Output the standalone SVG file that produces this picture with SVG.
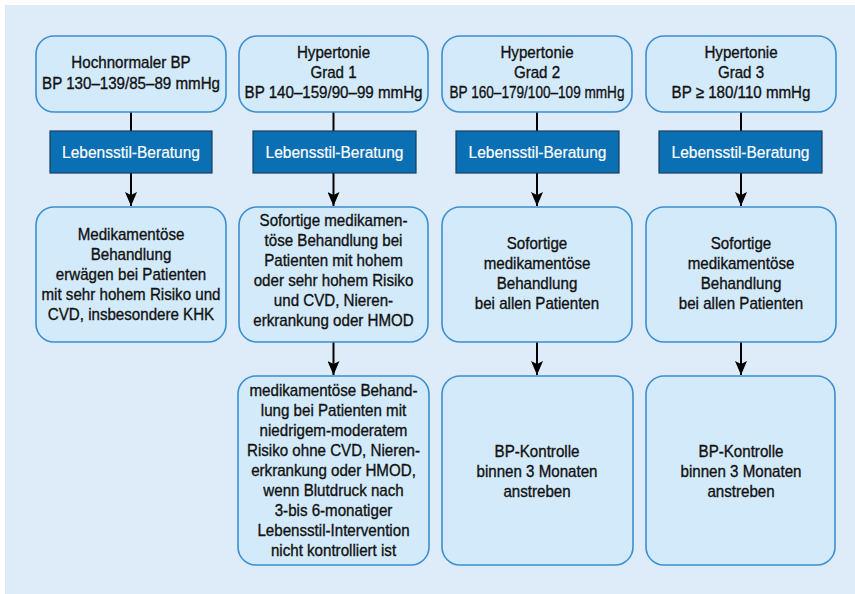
<svg xmlns="http://www.w3.org/2000/svg" width="855" height="594" viewBox="0 0 855 594">
<style>
.box{fill:#d3eafb;stroke:#3b8fd0;stroke-width:1.6}
.bar{fill:#0b6fb3;stroke:#1d3f5e;stroke-width:1.2}
.t{font-family:"Liberation Sans",Arial,sans-serif;font-size:17px;fill:#111;stroke:#111;stroke-width:0.35;text-anchor:middle}
.w{font-family:"Liberation Sans",Arial,sans-serif;font-size:16.5px;fill:#fff;stroke:#fff;stroke-width:0.2;text-anchor:middle}
.c{stroke:#000;stroke-width:2;fill:none}
</style>
<defs>
<marker id="ah" markerWidth="12" markerHeight="14" refX="6" refY="14" orient="0" markerUnits="userSpaceOnUse">
<path d="M0,0 L6,3 L12,0 L6,14 Z" fill="#000"/>
</marker>
</defs>
<rect x="0" y="0" width="855" height="594" fill="#ffffff"/>
<rect x="5" y="5" width="850" height="589" fill="#deebf8"/>
<g id="connectors">
<line class="c" x1="131" y1="112" x2="131" y2="131"/>
<line class="c" x1="333.5" y1="112" x2="333.5" y2="131"/>
<line class="c" x1="537" y1="112" x2="537" y2="131"/>
<line class="c" x1="741" y1="112" x2="741" y2="131"/>
<line class="c" x1="131" y1="173" x2="131" y2="206" marker-end="url(#ah)"/>
<line class="c" x1="333.5" y1="173" x2="333.5" y2="206" marker-end="url(#ah)"/>
<line class="c" x1="537" y1="173" x2="537" y2="206" marker-end="url(#ah)"/>
<line class="c" x1="741" y1="173" x2="741" y2="206" marker-end="url(#ah)"/>
<line class="c" x1="333.5" y1="342" x2="333.5" y2="375" marker-end="url(#ah)"/>
<line class="c" x1="537" y1="342" x2="537" y2="375" marker-end="url(#ah)"/>
<line class="c" x1="741" y1="342" x2="741" y2="375" marker-end="url(#ah)"/>
</g>
<g id="top1"><rect class="box" x="36" y="36" width="190" height="76" rx="18"/>
<g transform="translate(131 0) scale(0.89 1)"><text class="t" x="0" y="68">Hochnormaler BP</text><text class="t" x="0" y="89">BP 130–139/85–89 mmHg</text></g></g>
<g id="top2"><rect class="box" x="239" y="36" width="189" height="76" rx="18"/>
<g transform="translate(333.5 0) scale(0.89 1)"><text class="t" x="0" y="58">Hypertonie</text><text class="t" x="0" y="78">Grad 1</text><text class="t" x="0" y="98">BP 140–159/90–99 mmHg</text></g></g>
<g id="top3"><rect class="box" x="442" y="36" width="190" height="76" rx="18"/>
<g transform="translate(537 0) scale(0.89 1)"><text class="t" x="0" y="58">Hypertonie</text><text class="t" x="0" y="78">Grad 2</text></g>
<g transform="translate(537 0) scale(0.8 1)"><text class="t" x="0" y="98">BP 160–179/100–109 mmHg</text></g></g>
<g id="top4"><rect class="box" x="646" y="36" width="190" height="76" rx="18"/>
<g transform="translate(741 0) scale(0.89 1)"><text class="t" x="0" y="58">Hypertonie</text><text class="t" x="0" y="78">Grad 3</text><text class="t" x="0" y="98">BP ≥ 180/110 mmHg</text></g></g>
<g id="bar1"><rect class="bar" x="50" y="131" width="162" height="42"/><g transform="translate(131 0) scale(0.94 1)"><text class="w" x="0" y="158">Lebensstil-Beratung</text></g></g>
<g id="bar2"><rect class="bar" x="253" y="131" width="163" height="42"/><g transform="translate(334.5 0) scale(0.94 1)"><text class="w" x="0" y="158">Lebensstil-Beratung</text></g></g>
<g id="bar3"><rect class="bar" x="456" y="131" width="163" height="42"/><g transform="translate(537.5 0) scale(0.94 1)"><text class="w" x="0" y="158">Lebensstil-Beratung</text></g></g>
<g id="bar4"><rect class="bar" x="659" y="131" width="163" height="42"/><g transform="translate(740.5 0) scale(0.94 1)"><text class="w" x="0" y="158">Lebensstil-Beratung</text></g></g>
<g id="mid1"><rect class="box" x="36" y="207" width="190" height="135" rx="18"/>
<g transform="translate(131 0) scale(0.89 1)"><text class="t" x="0" y="240">Medikamentöse</text><text class="t" x="0" y="260">Behandlung</text><text class="t" x="0" y="280">erwägen bei Patienten</text><text class="t" x="0" y="300">mit sehr hohem Risiko und</text><text class="t" x="0" y="320">CVD, insbesondere KHK</text></g></g>
<g id="mid2"><rect class="box" x="239" y="207" width="189" height="135" rx="18"/>
<g transform="translate(333.5 0) scale(0.89 1)"><text class="t" x="0" y="226">Sofortige medikamen-</text><text class="t" x="0" y="246">töse Behandlung bei</text><text class="t" x="0" y="266">Patienten mit hohem</text><text class="t" x="0" y="286">oder sehr hohem Risiko</text><text class="t" x="0" y="306">und CVD, Nieren-</text><text class="t" x="0" y="326">erkrankung oder HMOD</text></g></g>
<g id="mid3"><rect class="box" x="442" y="207" width="190" height="135" rx="18"/>
<g transform="translate(537 0) scale(0.89 1)"><text class="t" x="0" y="249">Sofortige</text><text class="t" x="0" y="269">medikamentöse</text><text class="t" x="0" y="289">Behandlung</text><text class="t" x="0" y="309">bei allen Patienten</text></g></g>
<g id="mid4"><rect class="box" x="646" y="207" width="190" height="135" rx="18"/>
<g transform="translate(741 0) scale(0.89 1)"><text class="t" x="0" y="249">Sofortige</text><text class="t" x="0" y="269">medikamentöse</text><text class="t" x="0" y="289">Behandlung</text><text class="t" x="0" y="309">bei allen Patienten</text></g></g>
<g id="bot2"><rect class="box" x="238" y="376" width="191" height="189" rx="18"/>
<g transform="translate(333.5 0) scale(0.89 1)"><text class="t" x="0" y="396">medikamentöse Behand-</text><text class="t" x="0" y="416">lung bei Patienten mit</text><text class="t" x="0" y="436">niedrigem-moderatem</text><text class="t" x="0" y="456">Risiko ohne CVD, Nieren-</text><text class="t" x="0" y="476">erkrankung oder HMOD,</text><text class="t" x="0" y="496">wenn Blutdruck nach</text><text class="t" x="0" y="516">3-bis 6-monatiger</text><text class="t" x="0" y="536">Lebensstil-Intervention</text><text class="t" x="0" y="556">nicht kontrolliert ist</text></g></g>
<g id="bot3"><rect class="box" x="442" y="376" width="191" height="189" rx="18"/>
<g transform="translate(537 0) scale(0.89 1)"><text class="t" x="0" y="457">BP-Kontrolle</text><text class="t" x="0" y="477">binnen 3 Monaten</text><text class="t" x="0" y="497">anstreben</text></g></g>
<g id="bot4"><rect class="box" x="646" y="376" width="189" height="189" rx="18"/>
<g transform="translate(741 0) scale(0.89 1)"><text class="t" x="0" y="457">BP-Kontrolle</text><text class="t" x="0" y="477">binnen 3 Monaten</text><text class="t" x="0" y="497">anstreben</text></g></g>
</svg>
